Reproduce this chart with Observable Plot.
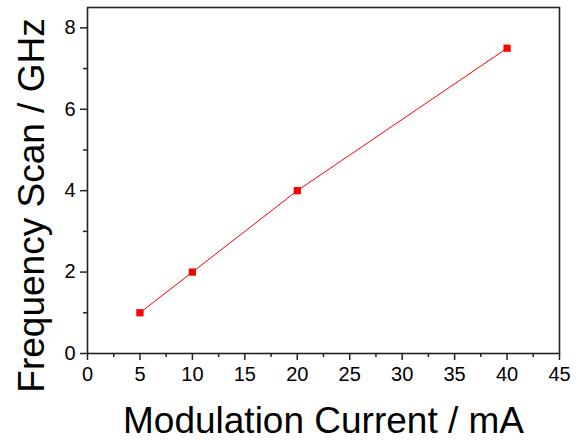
<!DOCTYPE html>
<html><head><meta charset="utf-8">
<script src="https://cdn.jsdelivr.net/npm/d3@7"></script>
<script src="https://cdn.jsdelivr.net/npm/@observablehq/plot@0.6"></script>
<style>
body{margin:0;background:#fff}
svg g[aria-label="x-axis tick label"] text, svg g[aria-label="y-axis tick label"] text{font-size:20px !important;}
</style>
</head><body><div id="chart"></div>
<script>
const current = [5, 10, 20, 40];
const scan = [1, 2, 4, 7.5];
const xTicks = [0, 5, 10, 15, 20, 25, 30, 35, 40, 45];
const xMinor = [2.5, 7.5, 12.5, 17.5, 22.5, 27.5, 32.5, 37.5, 42.5];
const yTicks = [0, 2, 4, 6, 8];
const yMinor = [1, 3, 5, 7];
const xTitle = "Modulation Current / mA";
const yTitle = "Frequency Scan / GHz";

const data = current.map((c, i) => ({current: c, scan: scan[i]}));
const font = "Arial, 'Liberation Sans', sans-serif";

const plot = Plot.plot({
  width: 583, height: 440,
  marginLeft: 87, marginRight: 24, marginTop: 7, marginBottom: 87,
  style: {fontFamily: font, fontSize: "20px", background: "white", color: "#000"},
  x: {domain: [0, 45]},
  y: {domain: [0, 8.5]},
  marks: [
    Plot.frame({stroke: "#222", strokeWidth: 1.6}),
    Plot.axisX({ticks: xTicks, tickSize: 7, tickPadding: 6, strokeWidth: 1.5, stroke: "#222", label: null, fontSize: 20}),
    Plot.axisX({ticks: xMinor, tickSize: 4, tickFormat: () => "", strokeWidth: 1.5, stroke: "#222", label: null}),
    Plot.axisY({ticks: yTicks, tickSize: 7, tickPadding: 5, strokeWidth: 1.5, stroke: "#222", label: null, fontSize: 20}),
    Plot.axisY({ticks: yMinor, tickSize: 4, tickFormat: () => "", strokeWidth: 1.5, stroke: "#222", label: null}),
    Plot.line(data, {x: "current", y: "scan", stroke: "#ff0000", strokeWidth: 1}),
    Plot.dot(data, {x: "current", y: "scan", symbol: "square", fill: "#ff0000", stroke: "none", r: 4.1}),
    Plot.text([xTitle], {frameAnchor: "bottom", dy: 79, lineAnchor: "bottom", fontSize: 37, fill: "#000"}),
    Plot.text([yTitle], {frameAnchor: "left", textAnchor: "middle", dx: -44, dy: 25, rotate: -90, lineAnchor: "bottom", fontSize: 37, fill: "#000"})
  ]
});
document.getElementById("chart").appendChild(plot);
</script>
</body></html>
